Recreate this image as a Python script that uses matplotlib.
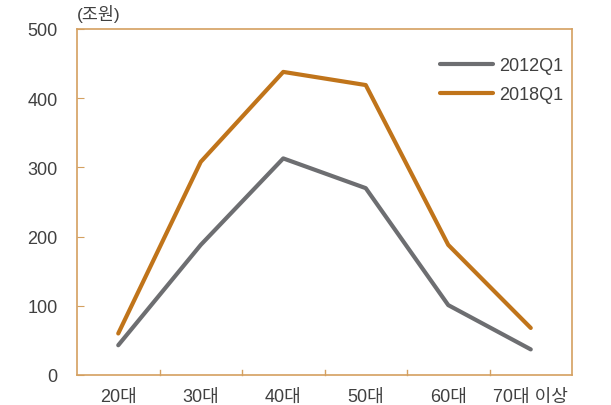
import matplotlib.pyplot as plt
import numpy as np

plt.rcParams['font.family'] = ['Liberation Sans', 'Noto Sans CJK KR']

# age groups and household debt (trillion won)
ages = ['20대', '30대', '40대', '50대', '60대', '70대 이상']
debt_2012 = [43, 188, 313, 270, 101, 37]
debt_2018 = [60, 308, 438, 419, 188, 68]

gray = '#6d6e71'
orange = '#c0741a'
spine = '#d4a060'
text = '#404040'

fig = plt.figure(figsize=(6.11, 4.06), dpi=100)
ax = fig.add_axes([77 / 611, 30 / 406, 495 / 611, 346 / 406])

x = np.arange(len(ages))
ax.plot(x, debt_2012, color=gray, lw=3, label='2012Q1', solid_capstyle='round')
ax.plot(x, debt_2018, color=orange, lw=3, label='2018Q1', solid_capstyle='round')

ax.set_xlim(-0.5, len(ages) - 0.5)
ax.set_ylim(0, 500)
ax.set_yticks(range(0, 501, 100))
ax.tick_params(axis='y', direction='in', length=5, color=spine, labelsize=13,
               labelcolor=text, pad=14)

# category labels centred, ticks at the boundaries
ax.set_xticks(x)
ax.set_xticklabels(ages, fontsize=13, color=text)
ax.tick_params(axis='x', length=0, pad=9)
for b in np.arange(0.5, len(ages) - 1, 1):
    ax.plot([b, b], [0, 7], color=spine, lw=1, clip_on=False)

for s in ax.spines.values():
    s.set_color(spine)
    s.set_linewidth(1.2)

ax.text(0, 1.02, '(조원)', transform=ax.transAxes, fontsize=12.5, color=text,
        ha='left', va='bottom')

ax.legend(loc='upper right', bbox_to_anchor=(1.015, 0.965), frameon=False,
          fontsize=13, handlelength=2.9, handletextpad=0.35, labelspacing=0.65,
          labelcolor=text)

fig.savefig('out.png', dpi=100)
